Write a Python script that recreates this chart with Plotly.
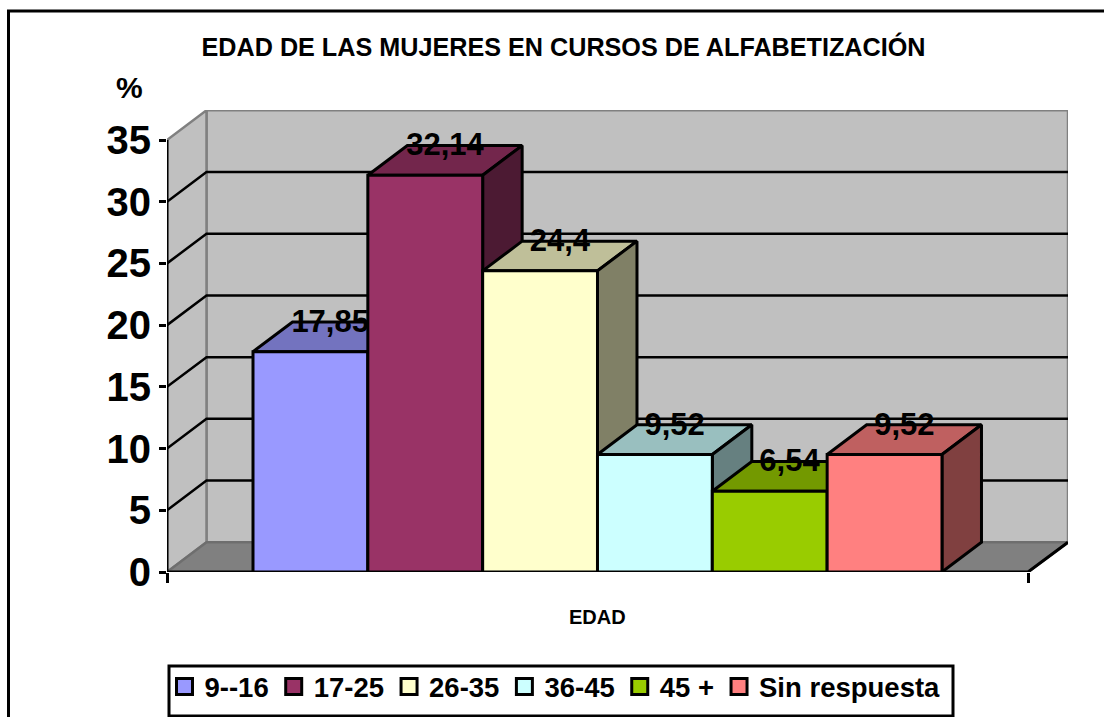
import plotly.graph_objects as go

categories = ["9--16", "17-25", "26-35", "36-45", "45 +", "Sin respuesta"]
values = [17.85, 32.14, 24.4, 9.52, 6.54, 9.52]
colors = ["#9999FF", "#993366", "#FFFFCC", "#CCFFFF", "#99CC00", "#FF8080"]
y_ticks = [0, 5, 10, 15, 20, 25, 30, 35]
title_text = "EDAD DE LAS MUJERES EN CURSOS DE ALFABETIZACIÓN"

W, H = 1104, 717
PL, PR, PT, PB = 167, 1068, 110, 572      # plot area in page pixels
FRONT_R = 1028
BAR_L, BAR_PX = 253, 114.83
Y_PX = 12.343
DX = 39.5 / BAR_PX     # depth, in x units
DY = 29.7 / Y_PX       # depth, in y units
X_LEFT = (PL - BAR_L) / BAR_PX - 0.5
X_FRONT_R = (FRONT_R - BAR_L) / BAR_PX - 0.5
X_MAX = (PR - BAR_L) / BAR_PX - 0.5
Y_MAX = (PB - PT) / Y_PX
YTOP = max(y_ticks)
FONT = "Liberation Sans"
WALL = "#C0C0C0"
FLOOR = "#808080"


def shade(hex_color, k):
    r, g, b = (int(hex_color[i:i + 2], 16) for i in (1, 3, 5))
    return f"rgb({round(r * k)},{round(g * k)},{round(b * k)})"


def px_x(p):
    return (p - PL) / (PR - PL)


def px_y(p):
    return (PB - p) / (PB - PT)


fig = go.Figure()


def poly(xs, ys, fill, line="#000000", width=2.5):
    fig.add_trace(go.Scatter(
        x=xs + xs[:1], y=ys + ys[:1], mode="lines", fill="toself", fillcolor=fill,
        line=dict(color=line, width=width), showlegend=False, hoverinfo="skip", cliponaxis=False))


def seg(xs, ys, color="#000000", width=2.5):
    fig.add_trace(go.Scatter(
        x=xs, y=ys, mode="lines", line=dict(color=color, width=width),
        showlegend=False, hoverinfo="skip", cliponaxis=False))


# walls and floor
poly([X_LEFT + DX, X_MAX, X_MAX, X_LEFT + DX], [DY, DY, YTOP + DY, YTOP + DY], WALL, FLOOR)
poly([X_LEFT, X_LEFT + DX, X_LEFT + DX, X_LEFT], [0, DY, YTOP + DY, YTOP], WALL, FLOOR)
poly([X_LEFT, X_FRONT_R, X_MAX, X_LEFT + DX], [0, 0, DY, DY], FLOOR, "#6e6e6e")

# gridlines
for v in y_ticks[1:-1]:
    seg([X_LEFT, X_LEFT + DX, X_MAX], [v, v + DY, v + DY])

# axis lines
seg([X_LEFT, X_LEFT], [0, YTOP], width=3)
seg([X_LEFT, X_FRONT_R, X_MAX], [0, 0, DY], width=3)

# bars
for i, (cat, val, col) in enumerate(zip(categories, values, colors)):
    l, r = i - 0.5, i + 0.5
    poly([l, l + DX, r + DX, r], [val, val + DY, val + DY, val], shade(col, 0.75), width=3)
    poly([r, r + DX, r + DX, r], [0, DY, val + DY, val], shade(col, 0.5), width=3)
    fig.add_trace(go.Scatter(
        x=[l, r, r, l, l], y=[0, 0, val, val, 0], mode="lines", fill="toself", fillcolor=col,
        line=dict(color="#000000", width=3), showlegend=False, name=cat,
        hovertemplate=f"{cat}: {val}<extra></extra>", cliponaxis=False))

# value labels
LABEL_DROP = 2 / Y_PX
fig.add_trace(go.Scatter(
    x=[i + DX / 2 for i in range(len(values))],
    y=[v + DY - LABEL_DROP for v in values],
    text=[str(v).replace(".", ",") for v in values],
    mode="text", textposition="middle center",
    textfont=dict(family=FONT, size=31, color="#000000", weight=700),
    showlegend=False, hoverinfo="skip", cliponaxis=False))

# legend entries
for cat, col in zip(categories, colors):
    fig.add_trace(go.Scatter(
        x=[None], y=[None], mode="markers", name=cat,
        marker=dict(symbol="square", size=16, color=col, line=dict(color="#000000", width=3))))

# chart frame (runs off the right and bottom of the page) and legend box
frame_l, frame_t, frame_r, frame_b = 8.5, 11, 1115, 730
fig.add_shape(type="rect", xref="paper", yref="paper", layer="below",
              x0=px_x(frame_l), x1=px_x(frame_r), y0=px_y(frame_b), y1=px_y(frame_t),
              line=dict(color="#000000", width=3), fillcolor="#FFFFFF")
fig.add_shape(type="rect", xref="paper", yref="paper", layer="below",
              x0=px_x(169), x1=px_x(953), y0=px_y(716), y1=px_y(666),
              line=dict(color="#000000", width=3), fillcolor="#FFFFFF")

fig.add_annotation(x=2.5, y=px_y(617), xref="x", yref="paper", text="EDAD", showarrow=False,
                   xanchor="center", yanchor="middle",
                   font=dict(family=FONT, size=20, color="#000000", weight=700))
fig.add_annotation(x=px_x(129), y=px_y(87), xref="paper", yref="paper", text="%", showarrow=False,
                   xanchor="center", yanchor="middle",
                   font=dict(family=FONT, size=30, color="#000000", weight=700))

fig.update_layout(
    width=W, height=H,
    margin=dict(l=PL, r=W - PR, t=PT, b=H - PB, pad=0, autoexpand=False),
    paper_bgcolor="#FFFFFF", plot_bgcolor="rgba(0,0,0,0)",
    title=dict(text=title_text, x=563.5 / W, xanchor="center", y=1 - 47 / H, yanchor="middle",
               font=dict(family=FONT, size=25.2, color="#000000", weight=700)),
    xaxis=dict(range=[X_LEFT, X_MAX], showgrid=False, zeroline=False, showline=False,
               tickmode="array", tickvals=[X_LEFT, X_FRONT_R], ticktext=["", ""],
               ticks="outside", ticklen=10, tickwidth=2.5, tickcolor="#000000"),
    yaxis=dict(range=[0, Y_MAX], showgrid=False, zeroline=False, showline=False,
               tickmode="array", tickvals=y_ticks, ticks="outside", ticklen=7, tickwidth=2.5,
               tickcolor="#000000",
               tickfont=dict(family=FONT, size=40, color="#000000", weight=700)),
    legend=dict(orientation="h", x=px_x(555), xanchor="center", y=px_y(662), yanchor="top",
                bgcolor="rgba(0,0,0,0)", borderwidth=0,
                font=dict(family=FONT, size=27.5, color="#000000", weight=700)),
    showlegend=True,
)

fig.write_html("out.html", config=dict(displayModeBar=False),
               post_script="document.body.style.margin='0';document.documentElement.style.overflow='hidden';")
